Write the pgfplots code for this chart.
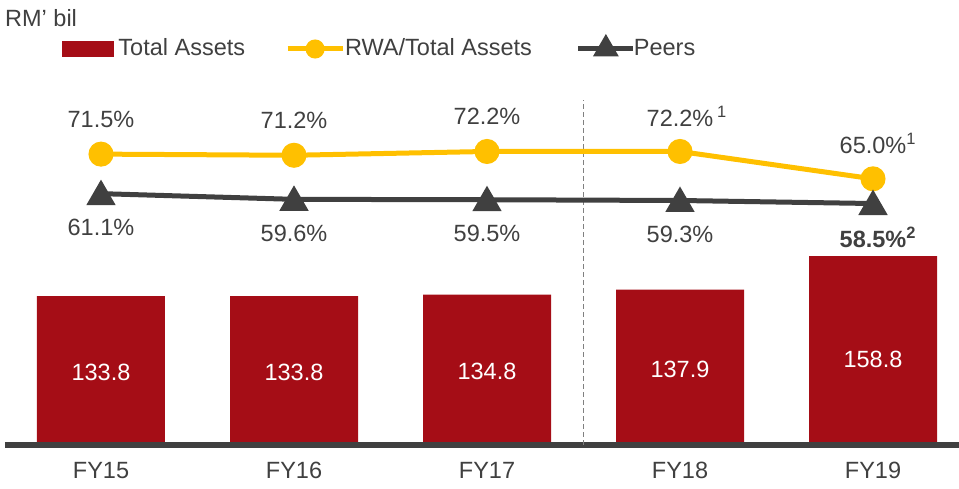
\documentclass[border=0pt]{standalone}
\usepackage{fontspec}
\setmainfont{Liberation Sans}
\usepackage{pgfplots}
\pgfplotsset{compat=1.18}
\definecolor{barred}{HTML}{A50D16}
\definecolor{yel}{HTML}{FFC000}
\definecolor{dgray}{HTML}{404040}
\definecolor{txtgray}{HTML}{404040}
\definecolor{dashgray}{HTML}{808080}
\pgfplotsset{
  lineleg/.style={legend image code/.code={\draw[mark repeat=2, mark phase=2, ##1] plot coordinates {(0bp,0bp) (27.5bp,0bp) (55bp,0bp)};}},
  barleg/.style={legend image code/.code={\fill[barred] (0bp,-7.5bp) rectangle (51bp,7.5bp);}},
}
\begin{document}
\fontsize{23.5bp}{28bp}\selectfont
\begin{tikzpicture}
\useasboundingbox (0,0) rectangle (959bp,489bp);
% ---- bars ----
\begin{axis}[
  at={(0,44bp)}, anchor=south west, scale only axis,
  width=959bp, height=445bp,
  xmin=-0.5233, xmax=4.4456, ymin=40.8, ymax=318.9,
  axis line style={draw=none}, ytick=\empty,
  xtick={0,1,2,3,4}, xticklabels={FY15,FY16,FY17,FY18,FY19},
  major tick length=0pt,
  xticklabel style={anchor=base, yshift=-34bp, text=txtgray, inner sep=0pt},
  clip mode=individual,
  /pgf/number format/assume math mode=true,
]
\addplot[ybar, bar width=128bp, fill=barred, draw=none]
  coordinates {(0,133.8) (1,133.8) (2,134.8) (3,137.9) (4,158.8)};
\addplot[draw=none, nodes near coords, point meta=explicit symbolic,
  nodes near coords style={anchor=center, text=white, inner sep=0pt}]
  coordinates {(0,86.4)[133.8] (1,86.4)[133.8] (2,87.0)[134.8] (3,88.3)[137.9] (4,94.5)[158.8]};
\draw[line width=5.5bp, dgray] (axis cs:-0.4974,40.8) -- (axis cs:4.4456,40.8);
\draw[line width=1.5bp, dashgray, dash pattern=on 5bp off 3bp] (axis cs:2.5,40.8) -- (axis cs:2.5,256.4);
\end{axis}
% ---- lines ----
\begin{axis}[
  at={(0,0)}, anchor=south west, scale only axis,
  width=959bp, height=489bp,
  xmin=-0.5233, xmax=4.4456, ymin=-16.62, ymax=112.06,
  hide axis, clip=false,
  legend style={draw=none, fill=none, at={(axis description cs:0.0647,0.8998)}, anchor=west,
    inner sep=0pt, outer sep=0pt, nodes={inner sep=0pt, text=txtgray},
    /tikz/every odd column/.append style={column sep=5bp},
    /tikz/every even column/.append style={column sep=40bp}},
  legend columns=3,
]
\addlegendimage{barleg}
\addlegendentry{Total Assets}
\addlegendimage{yel, line width=5bp, mark=*, mark size=7bp, lineleg}
\addlegendentry{\hspace*{-5bp}RWA/Total Assets\hspace*{4bp}}
\addlegendimage{dgray, line width=5bp, mark=triangle*, mark size=10bp, lineleg}
\addlegendentry{\hspace*{-7bp}Peers}

\addplot[forget plot, color=yel, line width=5bp, mark=*, mark size=10bp,
  nodes near coords, point meta=explicit symbolic,
  nodes near coords style={anchor=center, yshift=35bp, text=txtgray, inner sep=0pt}]
  coordinates {(0,71.5)[71.5\%] (1,71.2)[71.2\%] (2,72.2)[72.2\%] (3,72.2)[72.2\%\rlap{\,\textsuperscript{1}}] (4,65.0)[65.0\%\rlap{\textsuperscript{1}}]};
\addplot[forget plot, color=dgray, line width=5bp, mark=triangle*, mark size=12bp,
  mark options={yshift=-3bp},
  nodes near coords, point meta=explicit symbolic,
  nodes near coords style={anchor=center, yshift=-31bp, text=txtgray, inner sep=0pt}]
  coordinates {(0,61.1)[61.1\%] (1,59.6)[59.6\%] (2,59.5)[59.5\%] (3,59.3)[59.3\%] (4,58.5)[\textbf{58.5\%}\rlap{\textsuperscript{\textbf{2}}}]};
\node[anchor=west, inner sep=0pt, text=txtgray] at (axis description cs:0.0052,0.9632) {RM’ bil};
\end{axis}
\end{tikzpicture}
\end{document}
